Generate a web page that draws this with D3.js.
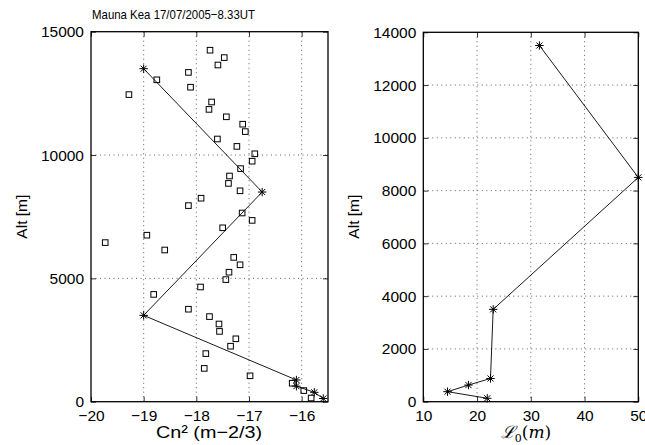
<!DOCTYPE html>
<html><head><meta charset="utf-8">
<script src="https://cdn.jsdelivr.net/npm/d3@7"></script>
<style>
html,body{margin:0;padding:0;background:#fff;}
svg{display:block;font-family:"Liberation Sans",Arial,sans-serif;}
</style></head>
<body><svg id="c" width="645" height="445"></svg>
<script>
// Measured Cn2 profile (log10 Cn2) – squares
const cn2Alt = [14250,13950,13650,13350,13050,12750,12450,12150,11850,11550,
  11250,10950,10650,10350,10050,9750,9450,9150,8850,8550,
  8250,7950,7650,7350,7050,6750,6450,6150,5850,5550,
  5250,4950,4650,4350,3750,3450,3150,2850,2550,2250,
  1950,1350,1050,750,450,150];
const cn2Val = [-17.74,-17.47,-17.59,-18.15,-18.75,-18.11,-19.28,-17.71,-17.76,-17.43,
  -17.12,-17.07,-17.60,-17.23,-16.89,-16.94,-17.16,-17.37,-17.39,-17.17,
  -17.91,-18.15,-17.13,-16.94,-17.50,-18.94,-19.73,-18.60,-17.29,-17.17,
  -17.38,-17.44,-17.92,-18.81,-18.15,-17.75,-17.57,-17.56,-17.25,-17.35,
  -17.82,-17.85,-16.98,-16.18,-15.96,-15.82];
// Layer model (stars)
const layerAlt = [13500,8500,3500,880,630,380,130];
const layerCn2 = [-19.0,-16.75,-19.0,-16.1,-16.1,-15.76,-15.59];
const layerL0  = [31.6,50.0,23.0,22.5,18.4,14.5,21.9];
// ticks
const xTicks1 = [-20,-19,-18,-17,-16];
const yTicks1 = [0,5000,10000,15000];
const xTicks2 = [10,20,30,40,50];
const yTicks2 = [0,2000,4000,6000,8000,10000,12000,14000];
const title = "Mauna Kea 17/07/2005\u22128.33UT";

const svg = d3.select("#c");
const x1 = d3.scaleLinear().domain([-20,-15.5]).range([91,328]);
const y1 = d3.scaleLinear().domain([0,15000]).range([401.7,31.7]);
const x2 = d3.scaleLinear().domain([10,50]).range([423.3,638.3]);
const y2 = d3.scaleLinear().domain([0,14000]).range([401.7,32.3]);

const fmt = d => String(d).replace("-", "\u2212");

function panel(x, y, xt, yt) {
  const g = svg.append("g");
  const [xa, xb] = x.range(), [yb, ya] = y.range();
  // grid
  g.append("g").selectAll("line").data(xt.filter(v => x(v) > xa + 1 && x(v) < xb - 1)).join("line")
    .attr("x1", d => x(d)).attr("x2", d => x(d)).attr("y1", ya).attr("y2", yb)
    .attr("stroke", "#333").attr("stroke-width", 0.8).attr("stroke-dasharray", "1,3.5");
  g.append("g").selectAll("line").data(yt.filter(v => y(v) < yb - 1 && y(v) > ya + 1)).join("line")
    .attr("y1", d => y(d)).attr("y2", d => y(d)).attr("x1", xa).attr("x2", xb)
    .attr("stroke", "#333").attr("stroke-width", 0.8).attr("stroke-dasharray", "1,3.5");
  // axes (inward ticks)
  const ax = d3.axisBottom(x).tickValues(xt).tickSize(-5).tickPadding(8).tickFormat(fmt);
  const ay = d3.axisLeft(y).tickValues(yt).tickSize(-5).tickPadding(7).tickFormat(fmt);
  const axT = d3.axisTop(x).tickValues(xt).tickSize(-5).tickFormat("");
  const ayR = d3.axisRight(y).tickValues(yt).tickSize(-5).tickFormat("");
  const gb = g.append("g").attr("transform", `translate(0,${yb})`).call(ax);
  const gl = g.append("g").attr("transform", `translate(${xa},0)`).call(ay);
  const gt = g.append("g").attr("transform", `translate(0,${ya})`).call(axT);
  const gr = g.append("g").attr("transform", `translate(${xb},0)`).call(ayR);
  [gb, gl, gt, gr].forEach(s => {
    s.select(".domain").remove();
    s.selectAll("line").attr("stroke", "#000").attr("stroke-width", 0.8);
    s.selectAll("text").attr("fill", "#000").attr("font-size", 15.5)
      .attr("font-family", "Liberation Sans, Arial, sans-serif");
  });
  g.append("rect").attr("x", xa).attr("y", ya).attr("width", xb - xa).attr("height", yb - ya)
    .attr("fill", "none").attr("stroke", "#000").attr("stroke-width", 1.3);
  return g;
}

const starPath = (s) => {
  const d = 0.72 * s;
  return `M${-s},0L${s},0M0,${-s}L0,${s}M${-d},${-d}L${d},${d}M${-d},${d}L${d},${-d}`;
};

// Left panel
const g1 = panel(x1, y1, xTicks1, yTicks1);
g1.append("g").selectAll("rect").data(cn2Val).join("rect")
  .attr("x", (d, i) => x1(d) - 2.8).attr("y", (d, i) => y1(cn2Alt[i]) - 2.8)
  .attr("width", 5.6).attr("height", 5.6)
  .attr("fill", "none").attr("stroke", "#000").attr("stroke-width", 1);
const line1 = d3.line().x((d, i) => x1(layerCn2[i])).y((d, i) => y1(layerAlt[i]));
g1.append("path").attr("d", line1(layerAlt)).attr("fill", "none").attr("stroke", "#000").attr("stroke-width", 0.9);
g1.append("g").selectAll("path").data(layerAlt).join("path")
  .attr("transform", (d, i) => `translate(${x1(layerCn2[i])},${y1(d)})`)
  .attr("d", starPath(4.2)).attr("stroke", "#000").attr("stroke-width", 1);

// Right panel
const g2 = panel(x2, y2, xTicks2, yTicks2);
const line2 = d3.line().x((d, i) => x2(layerL0[i])).y((d, i) => y2(layerAlt[i]));
g2.append("path").attr("d", line2(layerAlt)).attr("fill", "none").attr("stroke", "#000").attr("stroke-width", 0.9);
g2.append("g").selectAll("path").data(layerAlt).join("path")
  .attr("transform", (d, i) => `translate(${x2(layerL0[i])},${y2(d)})`)
  .attr("d", starPath(4.2)).attr("stroke", "#000").attr("stroke-width", 1);

// Texts
svg.append("text").attr("x", 92).attr("y", 19).attr("font-size", 13)
  .attr("textLength", 163).attr("lengthAdjust", "spacingAndGlyphs").text(title);
svg.append("text").attr("transform", `translate(27,${(31.7 + 401.7) / 2}) rotate(-90)`)
  .attr("text-anchor", "middle").attr("font-size", 15.5).text("Alt [m]");
svg.append("text").attr("transform", `translate(359,${(31.7 + 401.7) / 2}) rotate(-90)`)
  .attr("text-anchor", "middle").attr("font-size", 15.5).text("Alt [m]");
svg.append("text").attr("x", 156).attr("y", 438)
  .attr("font-size", 17).attr("textLength", 106).attr("lengthAdjust", "spacingAndGlyphs")
  .text("Cn\u00b2 (m\u22122/3)");
const lt = svg.append("text").attr("x", 526).attr("y", 438).attr("text-anchor", "middle")
  .attr("font-size", 17).attr("font-family", "DejaVu Serif, serif");
lt.append("tspan").attr("font-style", "italic").text("\u2112");
lt.append("tspan").attr("font-size", 11).attr("dy", 4).text("0");
lt.append("tspan").attr("dy", -4).text("(");
lt.append("tspan").attr("font-style", "italic").text("m");
lt.append("tspan").text(")");
</script></body></html>
